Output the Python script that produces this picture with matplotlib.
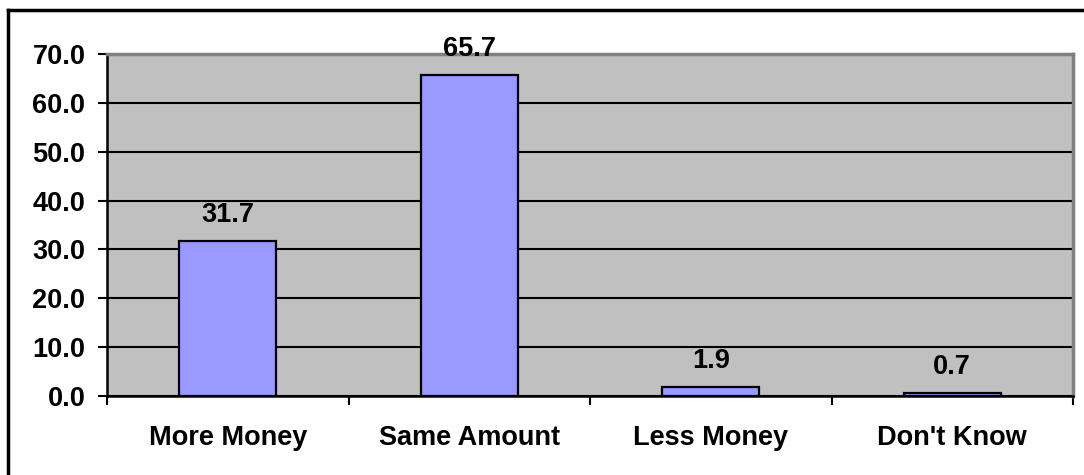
import matplotlib
matplotlib.use("Agg")
import matplotlib.pyplot as plt
from matplotlib.lines import Line2D
import numpy as np

categories = ["More Money", "Same Amount", "Less Money", "Don't Know"]
values = [31.7, 65.7, 1.9, 0.7]
yticks = [0, 10, 20, 30, 40, 50, 60, 70]

plt.rcParams['font.family'] = ['Liberation Sans', 'DejaVu Sans']
plt.rcParams['font.weight'] = 'bold'
fs = 19.5

fig = plt.figure(figsize=(10.84, 4.75), dpi=100)
ax = fig.add_axes([107/1084, 1-396/475, (1073-107)/1084, (396-54)/475])
ax.set_facecolor('#C0C0C0')

x = np.arange(len(categories))
ax.set_axisbelow(True)
ax.yaxis.grid(True, color='black', linewidth=1.5)
bars = ax.bar(x, values, width=0.4, color='#9999FF', edgecolor='black', linewidth=1.6, zorder=3)

for b, v in zip(bars, values):
    ax.annotate(f"{v:.1f}", (b.get_x() + b.get_width()/2, v), xytext=(0, 13.5),
                textcoords='offset points', ha='center', va='baseline',
                fontsize=fs, fontweight='bold', zorder=4, annotation_clip=False)

ax.set_xlim(-0.5, len(categories) - 0.5)
ax.set_ylim(0, 70)
ax.set_yticks(yticks)
ax.set_yticklabels([f"{t:.1f}" for t in yticks], fontsize=fs, fontweight='bold')
ax.set_xticks(x)
ax.set_xticklabels(categories, fontsize=fs, fontweight='bold')
ax.set_xticks(np.arange(len(categories) + 1) - 0.5, minor=True)
ax.tick_params(axis='x', which='major', length=0, pad=21)
ax.tick_params(axis='x', which='minor', length=6.5, width=1.5, direction='out')
ax.tick_params(axis='y', length=6.5, width=1.5, direction='out', pad=9)

for side in ['top', 'right']:
    ax.spines[side].set_color('#808080')
    ax.spines[side].set_linewidth(2.5)
for side in ['left', 'bottom']:
    ax.spines[side].set_color('black')
    ax.spines[side].set_linewidth(1.8)

# outer chart border (only top and left show in the picture)
fig.add_artist(Line2D([8/1084, 1], [1-10/475, 1-10/475], color='black', linewidth=2.5))
fig.add_artist(Line2D([8/1084, 8/1084], [0, 1-10/475], color='black', linewidth=2.5))

fig.savefig("out.png", dpi=100, facecolor='white')
